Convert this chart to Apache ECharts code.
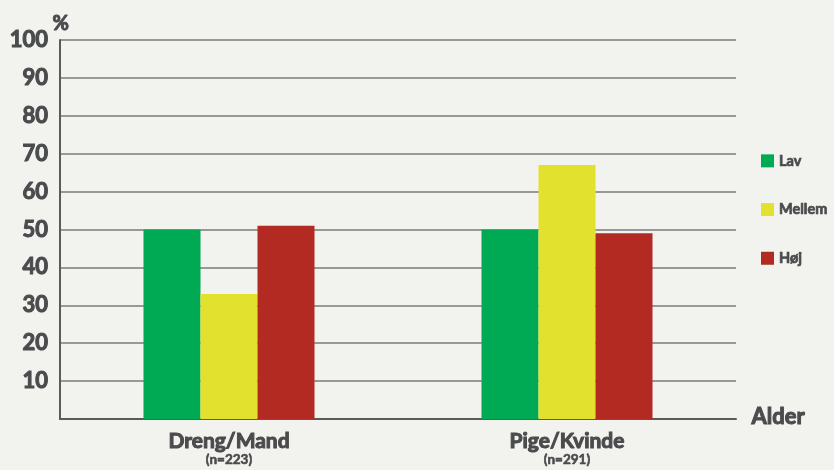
<!DOCTYPE html>
<html>
<head>
<meta charset="utf-8">
<script src="https://cdn.jsdelivr.net/npm/echarts@6/dist/echarts.min.js"></script>
<style>
html,body{margin:0;padding:0;background:#f2f2ee;}
#c{width:834px;height:470px;}
</style>
</head>
<body>
<div id="c"></div>
<script>
var categories = ['Dreng/Mand', 'Pige/Kvinde'];
var sampleSizes = ['(n=223)', '(n=291)'];
var lav = [50, 50];
var mellem = [33, 67];
var hoj = [51, 49];
var seriesNames = ['Lav', 'Mellem', 'Høj'];
var yTicks = [0, 10, 20, 30, 40, 50, 60, 70, 80, 90, 100];

var FONT = 'Lato, "Open Sans", sans-serif';
var W = 'bold';
var TXT = '#4a4b4d';
var chart = echarts.init(document.getElementById('c'));
chart.setOption({
  backgroundColor: '#f2f2ee',
  animation: false,
  color: ['#00aa55', '#e2e22e', '#b22a22'],
  grid: {left: 60, right: 98, top: 40, bottom: 51, containLabel: false},
  legend: {
    orient: 'vertical', left: 756, top: 148,
    itemWidth: 13, itemHeight: 13, itemGap: 33,
    icon: 'rect',
    data: seriesNames,
    textStyle: {fontFamily: FONT, fontWeight: W, fontSize: 14.5, color: TXT, textBorderColor: TXT, textBorderWidth: 0.7}
  },
  graphic: [
    {type: 'text', left: 52, top: 13, style: {text: '%', font: W + ' 20px ' + FONT, fill: TXT, stroke: TXT, lineWidth: 1}},
    {type: 'text', left: 751, top: 405, style: {text: 'Alder', font: W + ' 22px ' + FONT, fill: TXT, stroke: TXT, lineWidth: 1}}
  ],
  xAxis: {
    type: 'category',
    data: categories,
    axisLine: {lineStyle: {color: '#5a5a5a', width: 2}},
    axisTick: {show: false},
    axisLabel: {
      margin: 11,
      formatter: function (v, i) { return '{a|' + v + '}\n{b|' + sampleSizes[i] + '}'; },
      rich: {
        a: {fontFamily: FONT, fontWeight: W, fontSize: 21, color: TXT, lineHeight: 22, textBorderColor: TXT, textBorderWidth: 1},
        b: {fontFamily: FONT, fontWeight: W, fontSize: 13.5, color: TXT, lineHeight: 15, textBorderColor: TXT, textBorderWidth: 0.6}
      }
    }
  },
  yAxis: {
    type: 'value', min: yTicks[0], max: yTicks[yTicks.length - 1], interval: 10,
    axisLine: {show: true, lineStyle: {color: '#5a5a5a', width: 2}},
    axisTick: {show: false},
    splitLine: {lineStyle: {color: '#7a7a7a', width: 1.5}},
    axisLabel: {
      margin: 12,
      fontFamily: FONT, fontWeight: W, fontSize: 22, color: TXT,
      textBorderColor: TXT, textBorderWidth: 1,
      formatter: function (v) { return v === 0 ? '' : String(v); }
    }
  },
  series: [
    {name: seriesNames[0], type: 'bar', data: lav, barWidth: 57, barGap: '0%'},
    {name: seriesNames[1], type: 'bar', data: mellem, barWidth: 57, barGap: '0%'},
    {name: seriesNames[2], type: 'bar', data: hoj, barWidth: 57, barGap: '0%'}
  ]
});
</script>
</body>
</html>
